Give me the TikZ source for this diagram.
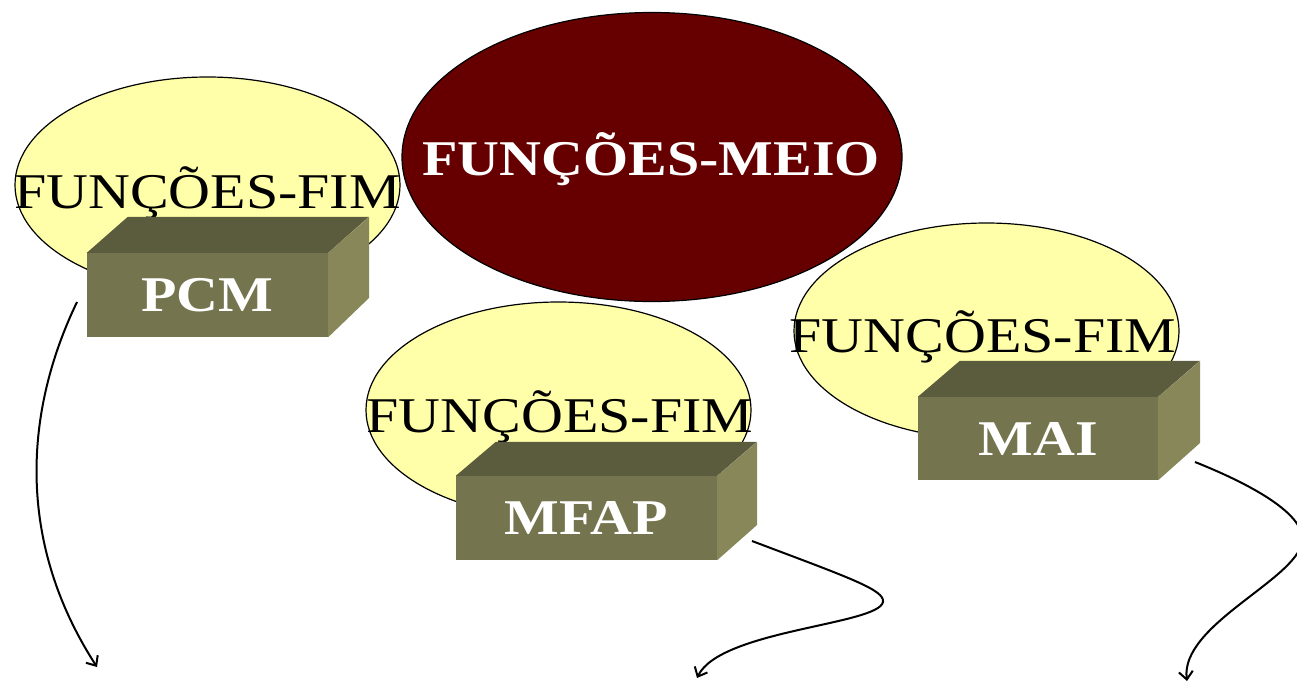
\documentclass[tikz,border=0pt]{standalone}
\usepackage{fontspec}
\setmainfont{Liberation Serif}[FakeStretch=1.16]
\usetikzlibrary{shapes.geometric,arrows.meta}
\definecolor{paleyellow}{HTML}{FFFFAA}
\definecolor{deepmaroon}{HTML}{660000}
\definecolor{olivefront}{HTML}{74744E}
\definecolor{olivetop}{HTML}{5B5B3D}
\definecolor{oliveside}{HTML}{87875A}
\begin{document}
\begin{tikzpicture}[x=1pt,y=-1pt,
  fimell/.style={ellipse, draw=black, line width=1.2pt, fill=paleyellow,
    minimum width=385pt, minimum height=216pt, inner sep=0pt},
  meioell/.style={ellipse, draw=black, line width=1.2pt, fill=deepmaroon,
    minimum width=500pt, minimum height=289pt, inner sep=0pt},
  fimtext/.style={anchor=base, inner sep=0pt, text=black,
    font=\fontsize{50}{60}\selectfont},
  meiotext/.style={anchor=base, inner sep=0pt, text=white,
    font=\bfseries\fontsize{50}{60}\selectfont},
  boxfront/.style={rectangle, fill=olivefront, inner sep=0pt, text=white,
    font=\bfseries\fontsize{50}{60}\selectfont},
  boxtop/.style={fill=olivetop},
  boxside/.style={fill=oliveside},
  conn/.style={draw=black, line width=2pt,
    -{Straight Barb[length=8pt,width=14pt,line width=2pt]}}
]
\useasboundingbox (0,0) rectangle (1297,685);

% central ellipse
\node[meioell] (meio) at (652,157) {};
\node[meiotext] (meiolbl) at (651,175) {FUNÇÕES-MEIO};

% end-function ellipses
\node[fimell] (fimA) at (207.5,185) {};
\node[fimtext] (fimAlbl) at (207.5,208) {FUNÇÕES-FIM};
\node[fimell] (fimB) at (558.5,410) {};
\node[fimtext] (fimBlbl) at (560,432) {FUNÇÕES-FIM};
\node[fimell] (fimC) at (986.5,331) {};
\node[fimtext] (fimClbl) at (983,352) {FUNÇÕES-FIM};

% 3D blocks: front faces
\node[boxfront, minimum width=241pt, minimum height=84pt] (pcm) at (207.5,295) {PCM};
\node[boxfront, minimum width=261pt, minimum height=84pt] (mfap) at (586.5,518) {MFAP};
\node[boxfront, minimum width=240pt, minimum height=83pt] (mai) at (1038,438.5) {MAI};

% 3D blocks: top and side faces
\fill[boxtop] (pcm.north west) -- ++(41,-36) -- ++(241,0) -- (pcm.north east) -- cycle;
\fill[boxside] (pcm.north east) -- ++(41,-36) -- ++(0,81) -- (pcm.south east) -- cycle;
\fill[boxtop] (mfap.north west) -- ++(40,-34) -- ++(261,0) -- (mfap.north east) -- cycle;
\fill[boxside] (mfap.north east) -- ++(40,-34) -- ++(0,83) -- (mfap.south east) -- cycle;
\fill[boxtop] (mai.north west) -- ++(42,-36) -- ++(240,0) -- (mai.north east) -- cycle;
\fill[boxside] (mai.north east) -- ++(42,-36) -- ++(0,82) -- (mai.south east) -- cycle;

% connectors
\coordinate (pcmtail) at (77,302);
\coordinate (pcmhead) at (97,667);
\coordinate (mfaptail) at (752,541);
\coordinate (mfapturn) at (883,602);
\coordinate (mfaphead) at (697,678);
\coordinate (maitail) at (1195,462);
\coordinate (maiturn) at (1302,542);
\coordinate (maihead) at (1187,681);

\draw[conn] (pcmtail) .. controls (25,410) and (15,540) .. (pcmhead);
\draw[conn] (mfaptail) .. controls (850,578) and (885,590) .. (mfapturn)
  .. controls (878,625) and (720,630) .. (mfaphead);
\begin{scope}
  \clip (0,0) rectangle (1297,685);
  \draw[conn] (maitail) .. controls (1270,492) and (1306,520) .. (maiturn)
    .. controls (1296,580) and (1180,625) .. (maihead);
\end{scope}
\end{tikzpicture}
\end{document}
